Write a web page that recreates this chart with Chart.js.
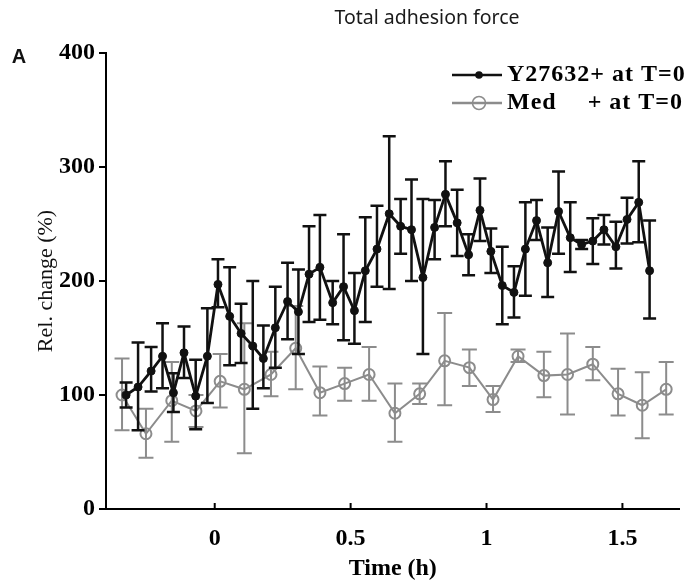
<!DOCTYPE html>
<html>
<head>
<meta charset="utf-8">
<script src="https://cdn.jsdelivr.net/npm/chart.js@4.4.1/dist/chart.umd.min.js"></script>
<style>
html, body { margin: 0; padding: 0; background: #fff; }
canvas { display: block; }
</style>
</head>
<body>
<canvas id="adhesionChart" width="687" height="581"></canvas>
<script>
// ============================
// DATA
// ============================

// Y27632+ at T=0  (time in h, rel. change in %)
const blackTime = [-0.326, -0.282, -0.234, -0.192, -0.152, -0.113, -0.070, -0.027, 0.012, 0.055,
  0.097, 0.140, 0.179, 0.223, 0.268, 0.308, 0.347, 0.387, 0.434, 0.474,
  0.514, 0.554, 0.597, 0.642, 0.684, 0.724, 0.766, 0.809, 0.849, 0.892,
  0.934, 0.976, 1.016, 1.058, 1.101, 1.143, 1.184, 1.225, 1.265, 1.308,
  1.350, 1.391, 1.432, 1.476, 1.517, 1.560, 1.600];
const blackMean = [100, 107, 121, 134, 102, 137, 99, 134, 197, 169,
  154, 143, 132, 159, 182, 173, 206, 212, 181, 195,
  174, 209, 228, 259, 248, 245, 203, 247, 276, 251,
  223, 262, 226, 196, 190, 228, 253, 216, 261, 238,
  232, 235, 245, 230, 254, 269, 209];
const blackHi = [111, 146, 142, 163, 119, 160, 131, 176, 219, 212,
  180, 200, 161, 195, 216, 210, 248, 258, 200, 241,
  207, 256, 266, 327, 272, 289, 272, 271, 305, 280,
  241, 290, 246, 230, 213, 269, 271, 247, 296, 269,
  236, 255, 258, 252, 273, 305, 253];
const blackLo = [89, 69, 103, 106, 85, 115, 70, 93, 177, 126,
  128, 88, 106, 124, 149, 136, 164, 166, 162, 148,
  145, 164, 195, 193, 224, 200, 136, 219, 248, 222,
  205, 235, 207, 162, 168, 187, 236, 186, 224, 208,
  228, 215, 232, 211, 233, 234, 167];

// Med + at T=0
const greyTime = [-0.341, -0.253, -0.158, -0.069, 0.020, 0.109, 0.207, 0.298, 0.387, 0.478,
  0.568, 0.663, 0.754, 0.846, 0.937, 1.024, 1.116, 1.211, 1.298, 1.391,
  1.484, 1.573, 1.661];
const greyMean = [100, 66, 95, 86, 112, 105, 118, 141, 102, 110,
  118, 84, 101, 130, 124, 96, 134, 117, 118, 127,
  101, 91, 105];
const greyHi = [132, 88, 129, 100, 136, 163, 138, 178, 125, 124,
  142, 110, 110, 172, 140, 108, 140, 138, 154, 142,
  123, 120, 129];
const greyLo = [69, 45, 59, 72, 89, 49, 99, 105, 82, 95,
  95, 59, 92, 91, 108, 85, 129, 98, 83, 113,
  82, 62, 83];

// Ticks
const xTicks = [0, 0.5, 1, 1.5];
const yTicks = [0, 100, 200, 300, 400];

const BLACK = '#111111';
const GREY = '#8c8c8c';
const SERIF = "'Liberation Serif', 'Times New Roman', serif";


// ============================
// PLUGINS
// ============================

// error bars, drawn just before their own dataset
const errorBars = {
  id: 'errorBars',
  beforeDatasetDraw(chart, args) {
    const ds = chart.data.datasets[args.index];
    const x = chart.scales.x;
    const y = chart.scales.y;
    const ctx = chart.ctx;
    ctx.save();
    ctx.strokeStyle = ds.borderColor;
    ctx.lineWidth = ds.errWidth;
    ds.data.forEach((p, i) => {
      const px = x.getPixelForValue(p.x);
      const top = y.getPixelForValue(ds.errHi[i]);
      const bot = y.getPixelForValue(ds.errLo[i]);
      ctx.beginPath();
      ctx.moveTo(px, top);
      ctx.lineTo(px, bot);
      ctx.moveTo(px - ds.capHalf, top);
      ctx.lineTo(px + ds.capHalf, top);
      ctx.moveTo(px - ds.capHalf, bot);
      ctx.lineTo(px + ds.capHalf, bot);
      ctx.stroke();
    });
    ctx.restore();
  }
};

// texts, inward x ticks, legend
const decorations = {
  id: 'decorations',
  afterDraw(chart) {
    const ctx = chart.ctx;
    const x = chart.scales.x;
    const area = chart.chartArea;
    ctx.save();

    // x ticks point inward
    ctx.strokeStyle = '#000';
    ctx.lineWidth = 2;
    xTicks.forEach(v => {
      const px = x.getPixelForValue(v);
      ctx.beginPath();
      ctx.moveTo(px, area.bottom);
      ctx.lineTo(px, area.bottom - 6);
      ctx.stroke();
    });

    // title
    ctx.fillStyle = '#1a1a1a';
    ctx.font = "19.5px 'Noto Sans', sans-serif";
    ctx.textAlign = 'center';
    ctx.textBaseline = 'middle';
    ctx.fillText('Total adhesion force', 427, 18);

    // panel letter
    ctx.fillStyle = '#111';
    ctx.font = "bold 20px 'Liberation Sans', Arial, sans-serif";
    ctx.fillText('A', 19, 57);

    // legend
    const rows = [
      {y: 75, color: BLACK, filled: true, r: 3.8},
      {y: 103, color: GREY, filled: false, r: 6.5}
    ];
    rows.forEach(row => {
      ctx.strokeStyle = row.color;
      ctx.lineWidth = 2.5;
      ctx.beginPath();
      ctx.moveTo(452, row.y);
      ctx.lineTo(502, row.y);
      ctx.stroke();
      ctx.beginPath();
      ctx.arc(479, row.y, row.r, 0, Math.PI * 2);
      if (row.filled) {
        ctx.fillStyle = row.color;
        ctx.fill();
      } else {
        ctx.lineWidth = 1.5;
        ctx.stroke();
      }
    });

    ctx.fillStyle = '#000';
    ctx.font = 'bold 24px ' + SERIF;
    ctx.textBaseline = 'middle';
    ctx.letterSpacing = '1px';
    ctx.textAlign = 'left';
    ctx.fillText('Y27632+ at T=0', 507, rows[0].y);
    ctx.fillText('Med', 507, rows[1].y);
    ctx.textAlign = 'right';
    ctx.fillText('+ at T=0', 683, rows[1].y);

    ctx.restore();
  }
};


// ============================
// CHART
// ============================

new Chart(document.getElementById('adhesionChart'), {

  type: 'line',

  data: {
    datasets: [{
      label: 'Y27632+ at T=0',
      data: blackTime.map((t, i) => ({x: t, y: blackMean[i]})),
      errHi: blackHi,
      errLo: blackLo,
      errWidth: 2.5,
      capHalf: 6.5,
      borderColor: BLACK,
      borderWidth: 2.8,
      pointRadius: 4,
      pointBackgroundColor: BLACK,
      pointBorderColor: BLACK,
      pointBorderWidth: 1,
      tension: 0
    }, {
      label: 'Med + at T=0',
      data: greyTime.map((t, i) => ({x: t, y: greyMean[i]})),
      errHi: greyHi,
      errLo: greyLo,
      errWidth: 2,
      capHalf: 7.5,
      borderColor: GREY,
      borderWidth: 2,
      pointRadius: 5.5,
      pointBackgroundColor: 'rgba(0,0,0,0)',
      pointBorderColor: GREY,
      pointBorderWidth: 2,
      tension: 0
    }]
  },

  options: {
    responsive: false,
    animation: false,
    devicePixelRatio: 1,
    layout: {
      padding: {top: 53, right: 4, left: 0, bottom: 0}
    },
    plugins: {
      legend: {display: false},
      title: {display: false},
      tooltip: {enabled: false}
    },
    scales: {
      x: {
        type: 'linear',
        min: -0.4,
        max: 1.71,
        afterBuildTicks: s => { s.ticks = xTicks.map(v => ({value: v})); },
        afterFit: s => { s.height = 72; },
        grid: {display: false, drawTicks: false},
        border: {display: true, color: '#000', width: 2},
        ticks: {
          padding: 15,
          color: '#000',
          font: {family: SERIF, size: 24, weight: 'bold'},
          callback: v => String(v),
          maxRotation: 0
        },
        title: {
          display: true,
          text: 'Time (h)',
          color: '#000',
          font: {family: SERIF, size: 24, weight: 'bold', lineHeight: 1},
          padding: {top: 0, bottom: 0}
        }
      },
      y: {
        min: 0,
        max: 400,
        afterBuildTicks: s => { s.ticks = yTicks.map(v => ({value: v})); },
        afterFit: s => { s.width = 106; },
        grid: {
          display: true,
          drawOnChartArea: false,
          drawTicks: true,
          tickLength: 7,
          color: '#000',
          lineWidth: 2
        },
        border: {display: true, color: '#000', width: 2},
        ticks: {
          padding: 4,
          color: '#000',
          font: {family: SERIF, size: 24, weight: 'bold'}
        },
        title: {
          display: true,
          text: 'Rel. change (%)',
          color: '#111',
          font: {family: SERIF, size: 22, weight: 'normal'},
          padding: {top: 33, bottom: 0}
        }
      }
    }
  },

  plugins: [errorBars, decorations]

});
</script>
</body>
</html>
